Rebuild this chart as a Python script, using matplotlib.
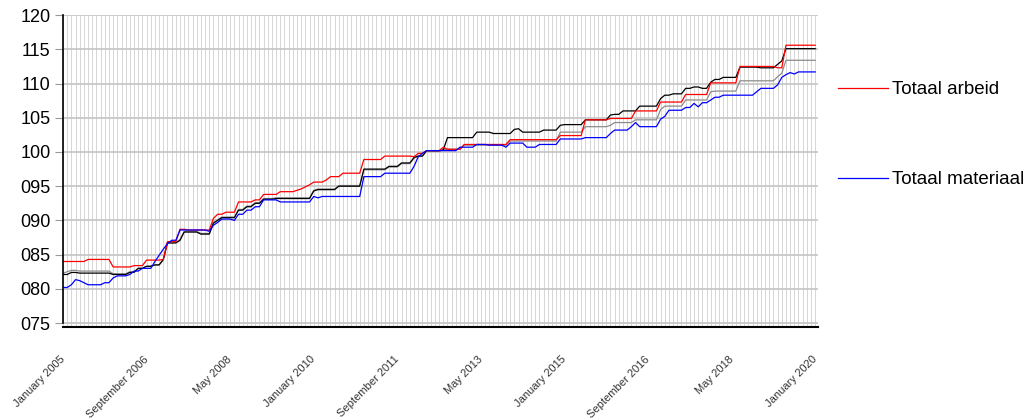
import matplotlib
matplotlib.use("Agg")
import matplotlib.pyplot as plt
import numpy as np

plt.rcParams['font.family'] = ['Liberation Sans', 'DejaVu Sans']

# maandelijkse indexcijfers, januari 2005 t/m januari 2020 (181 maanden)
arbeid = [
    84.0, 84.0, 84.0, 84.0, 84.0, 84.0, 84.3, 84.3, 84.3, 84.3, 84.3, 84.3,
    83.2, 83.2, 83.2, 83.2, 83.2, 83.4, 83.4, 83.4, 84.2, 84.2, 84.2, 84.2,
    84.3, 86.9, 86.9, 86.9, 88.7, 88.7, 88.6, 88.6, 88.6, 88.6, 88.6, 88.6,
    90.3, 90.9, 90.9, 91.2, 91.2, 91.2, 92.7, 92.7, 92.7, 92.7, 93.0, 93.0,
    93.8, 93.8, 93.8, 93.8, 94.2, 94.2, 94.2, 94.2, 94.4, 94.6, 94.9, 95.2,
    95.6, 95.6, 95.6, 95.9, 96.4, 96.4, 96.4, 96.9, 96.9, 96.9, 96.9, 96.9,
    98.9, 98.9, 98.9, 98.9, 98.9, 99.4, 99.4, 99.4, 99.4, 99.4, 99.4, 99.4,
    99.3, 99.8, 99.8, 100.2, 100.2, 100.2, 100.2, 100.7, 100.4, 100.4, 100.4, 100.4,
    101.1, 101.1, 101.1, 101.1, 101.1, 101.1, 101.1, 101.1, 101.1, 101.1, 101.1, 101.8,
    101.8, 101.8, 101.8, 101.8, 101.8, 101.8, 101.8, 101.8, 101.8, 101.8, 101.8, 102.4,
    102.4, 102.4, 102.4, 102.4, 102.4, 104.7, 104.7, 104.7, 104.7, 104.7, 104.7, 104.9,
    104.9, 104.9, 104.9, 104.9, 104.9, 106.0, 106.0, 106.0, 106.0, 106.0, 106.0, 107.3,
    107.3, 107.3, 107.3, 107.3, 107.3, 108.4, 108.4, 108.4, 108.4, 108.4, 108.4, 110.1,
    110.1, 110.1, 110.1, 110.1, 110.1, 110.1, 112.5, 112.5, 112.5, 112.5, 112.5, 112.5,
    112.5, 112.5, 112.5, 112.3, 112.3, 115.6, 115.6, 115.6, 115.6, 115.6, 115.6, 115.6,
    115.6,
]

materiaal = [
    80.2, 80.2, 80.6, 81.35, 81.2, 80.9, 80.6, 80.6, 80.6, 80.6, 80.9, 80.9,
    81.6, 81.9, 81.9, 81.9, 82.1, 82.6, 82.6, 83.0, 83.0, 83.0, 84.0, 84.9,
    85.8, 86.6, 87.1, 87.1, 88.6, 88.6, 88.6, 88.6, 88.6, 88.6, 88.6, 88.4,
    89.3, 89.7, 90.2, 90.2, 90.2, 90.0, 90.9, 90.9, 91.5, 91.5, 92.0, 92.0,
    93.0, 93.0, 93.0, 93.0, 92.7, 92.7, 92.7, 92.7, 92.7, 92.7, 92.7, 92.7,
    93.5, 93.3, 93.5, 93.5, 93.5, 93.5, 93.5, 93.5, 93.5, 93.5, 93.5, 93.5,
    96.4, 96.4, 96.4, 96.4, 96.4, 96.9, 96.9, 96.9, 96.9, 96.9, 96.9, 96.9,
    97.9, 99.3, 99.8, 100.2, 100.2, 100.2, 100.2, 100.2, 100.2, 100.2, 100.2, 100.7,
    100.7, 100.7, 100.7, 101.1, 101.1, 101.1, 101.0, 101.0, 101.0, 101.0, 100.7, 101.3,
    101.3, 101.3, 101.3, 100.7, 100.7, 100.7, 101.1, 101.1, 101.1, 101.1, 101.1, 101.9,
    101.9, 101.9, 101.9, 101.9, 101.9, 102.1, 102.1, 102.1, 102.1, 102.1, 102.1, 102.7,
    103.2, 103.2, 103.2, 103.2, 103.7, 104.3, 103.7, 103.7, 103.7, 103.7, 103.7, 104.8,
    105.2, 106.1, 106.1, 106.1, 106.1, 106.5, 106.5, 107.1, 106.6, 107.2, 107.2, 107.6,
    108.0, 108.0, 108.3, 108.3, 108.3, 108.3, 108.3, 108.3, 108.3, 108.3, 108.8, 109.3,
    109.3, 109.3, 109.3, 109.8, 110.9, 111.3, 111.6, 111.4, 111.7, 111.7, 111.7, 111.7,
    111.7,
]

zwart = [
    82.1, 82.1, 82.4, 82.4, 82.3, 82.3, 82.3, 82.3, 82.3, 82.3, 82.3, 82.3,
    82.1, 82.1, 82.1, 82.1, 82.4, 82.4, 83.0, 83.0, 83.3, 83.3, 83.5, 83.5,
    84.3, 86.7, 86.7, 86.7, 87.1, 88.3, 88.3, 88.3, 88.3, 88.0, 88.0, 88.0,
    89.6, 90.0, 90.4, 90.4, 90.4, 90.4, 91.5, 91.5, 92.0, 92.0, 92.5, 92.5,
    93.1, 93.1, 93.1, 93.2, 93.2, 93.2, 93.2, 93.2, 93.2, 93.2, 93.2, 93.2,
    94.3, 94.5, 94.5, 94.5, 94.5, 94.5, 95.0, 95.0, 95.0, 95.0, 95.0, 95.0,
    97.5, 97.5, 97.5, 97.5, 97.5, 97.5, 97.9, 97.9, 97.9, 98.4, 98.4, 98.4,
    99.2, 99.4, 99.4, 100.2, 100.2, 100.2, 100.2, 100.3, 102.1, 102.1, 102.1, 102.1,
    102.1, 102.1, 102.1, 102.9, 102.9, 102.9, 102.9, 102.7, 102.7, 102.7, 102.7, 102.7,
    103.3, 103.4, 102.9, 102.9, 102.9, 102.9, 102.9, 103.2, 103.2, 103.2, 103.2, 103.9,
    104.0, 104.0, 104.0, 104.0, 104.0, 104.7, 104.7, 104.7, 104.7, 104.7, 104.7, 105.4,
    105.5, 105.5, 106.0, 106.0, 106.0, 106.0, 106.7, 106.7, 106.7, 106.7, 106.7, 107.8,
    108.3, 108.3, 108.5, 108.5, 108.5, 109.3, 109.3, 109.5, 109.5, 109.3, 109.3, 110.2,
    110.6, 110.6, 110.9, 110.9, 110.9, 110.9, 112.4, 112.4, 112.4, 112.4, 112.4, 112.3,
    112.3, 112.3, 112.3, 112.8, 113.3, 115.1, 115.1, 115.1, 115.1, 115.1, 115.1, 115.1,
    115.1,
]

grijs = [
    82.3, 82.5, 82.7, 82.7, 82.6, 82.6, 82.6, 82.6, 82.6, 82.6, 82.6, 82.6,
    82.2, 82.2, 82.2, 82.2, 82.5, 82.5, 83.0, 83.0, 83.3, 83.3, 83.5, 83.5,
    84.2, 86.8, 86.8, 86.8, 87.2, 88.4, 88.4, 88.4, 88.4, 88.1, 88.1, 88.1,
    89.7, 90.1, 90.5, 90.5, 90.5, 90.5, 91.6, 91.6, 92.1, 92.1, 92.6, 92.6,
    93.2, 93.2, 93.2, 93.3, 93.3, 93.3, 93.3, 93.3, 93.3, 93.3, 93.3, 93.3,
    94.4, 94.6, 94.6, 94.6, 94.6, 94.6, 95.1, 95.1, 95.1, 95.1, 95.1, 95.1,
    97.4, 97.4, 97.4, 97.4, 97.4, 97.4, 97.8, 97.8, 97.8, 98.3, 98.3, 98.3,
    99.1, 99.4, 99.4, 100.1, 100.1, 100.1, 100.1, 100.3, 100.4, 100.4, 100.4, 100.4,
    101.0, 101.0, 101.0, 101.0, 101.0, 101.0, 101.0, 101.0, 101.0, 101.0, 101.0, 101.6,
    101.6, 101.6, 101.6, 101.6, 101.6, 101.6, 101.6, 101.6, 101.6, 101.6, 101.6, 102.9,
    102.9, 102.9, 102.9, 102.9, 102.9, 103.7, 103.7, 103.7, 103.7, 103.7, 103.7, 103.9,
    104.3, 104.3, 104.3, 104.3, 104.3, 104.7, 104.7, 104.7, 104.7, 104.7, 104.7, 106.2,
    106.7, 106.7, 106.7, 106.7, 106.7, 107.6, 107.6, 107.6, 107.6, 107.6, 107.6, 108.8,
    108.9, 108.9, 108.9, 108.9, 108.9, 108.9, 110.4, 110.4, 110.4, 110.4, 110.4, 110.4,
    110.4, 110.4, 110.4, 111.0, 111.5, 113.4, 113.4, 113.4, 113.4, 113.4, 113.4, 113.4,
    113.4,
]

tick_labels = ['January 2005', 'September 2006', 'May 2008', 'January 2010',
               'September 2011', 'May 2013', 'January 2015', 'September 2016',
               'May 2018', 'January 2020']
y_ticks = [75, 80, 85, 90, 95, 100, 105, 110, 115, 120]

maanden = np.arange(len(arbeid))

fig = plt.figure(figsize=(10.33, 4.2), dpi=100)
ax = fig.add_axes([0.061, 0.221, 0.731, 0.743])

# raster: verticale lijn per maand, horizontale per 5 punten
for m in maanden:
    ax.axvline(m, color='#d6d6d6', lw=0.7, zorder=0)
for v in y_ticks:
    ax.axhline(v, color='#c4c4c4', lw=1.2, zorder=0)

ax.plot(maanden, grijs, color='#8c8c8c', lw=0.9)
ax.plot(maanden, zwart, color='black', lw=0.9)
l_arbeid, = ax.plot(maanden, arbeid, color='red', lw=0.9, label='Totaal arbeid')
l_mat, = ax.plot(maanden, materiaal, color='blue', lw=0.9, label='Totaal materiaal')

ax.set_xlim(0, 180.7)
ax.set_ylim(74.4, 120)

ax.set_yticks(y_ticks)
ax.set_yticklabels([f'{v:03d}' for v in y_ticks], fontsize=13)
ax.tick_params(axis='y', length=6, color='#999999', pad=3)

ax.set_xticks(maanden[::20])
ax.set_xticklabels(tick_labels, rotation=45, ha='right', va='center',
                   rotation_mode='anchor', fontsize=8, color='#333333')
ax.tick_params(axis='x', length=0, pad=22)

ax.spines['top'].set_visible(False)
ax.spines['right'].set_visible(False)
ax.spines['left'].set_bounds(75, 120)
ax.spines['left'].set_linewidth(1.2)
ax.spines['bottom'].set_linewidth(1.5)

fig.legend(handles=[l_arbeid, l_mat], loc='upper left', bbox_to_anchor=(0.811, 0.807),
           frameon=False, fontsize=13.5, labelspacing=3.9, handlelength=2.7,
           handletextpad=0.2, borderpad=0, borderaxespad=0)

fig.savefig('out.png', dpi=100)
